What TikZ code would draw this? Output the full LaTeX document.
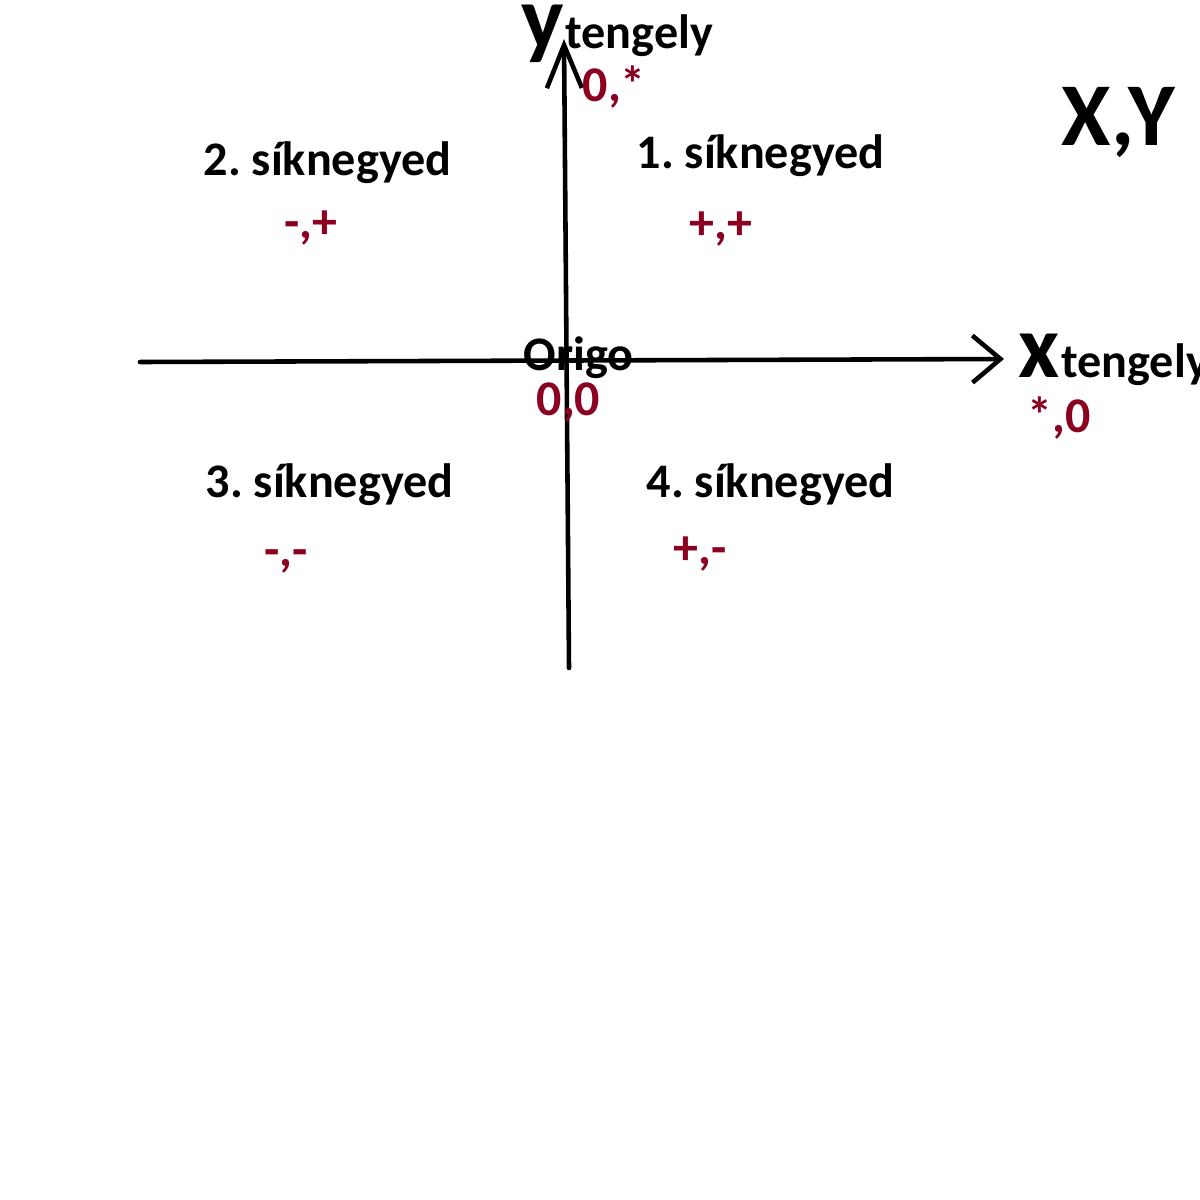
\documentclass[tikz,border=0pt]{standalone}
\usepackage{fontspec}
\setmainfont{Carlito}
\usetikzlibrary{arrows.meta,positioning}
\definecolor{DarkRed}{RGB}{139,0,33}
\frenchspacing

\begin{document}
\begin{tikzpicture}[x=0.01cm, y=-0.01cm,
	axis/.style={line width=1.3pt, line cap=round, line join=round},
	lbl/.style={anchor=base west, inner sep=0pt, font=\fontsize{13.7}{16}\selectfont\bfseries},
	sign/.style={lbl, text=DarkRed, font=\fontsize{14.2}{17}\selectfont\bfseries},
	big/.style={lbl, font=\fontsize{25.5}{30}\selectfont\bfseries}]
	\useasboundingbox (0,0) rectangle (1200,1200);
	
	% tengelyek
	\coordinate (xstart) at (140,362);
	\coordinate (xend) at (1004,359);
	\coordinate (ystart) at (569,668);
	\coordinate (yend) at (564,39);
	\draw[axis, -{Straight Barb[length=0.28cm, width=0.47cm]}] (xstart) -- (xend);
	\draw[axis, -{Straight Barb[length=0.43cm, width=0.35cm]}] (ystart) -- (yend);
	
	% tengelyfeliratok
	\node[big] (ybig) at (521,48) {y};
	\node[lbl] (ytxt) at (ybig.base east) {tengely};
	\node[sign] (ysign) at (582,101) {0,*};
	\node[big] (xbig) at (1018,377) {x};
	\node[lbl] (xtxt) at (xbig.base east) {tengely};
	\node[sign] (xsign) at (1027,432) {*,0};
	\node[big] (xy) at (1061,145) {X,Y};
	
	% origo
	\node[lbl] (origo) at (523,370) {Origo};
	\node[sign] (osign) at (536,415) {0,0};
	
	% síknegyedek
	\node[lbl] (q1) at (636,168) {1. síknegyed};
	\node[sign] (s1) at (689,239) {+,+};
	\node[lbl] (q2) at (203,175) {2. síknegyed};
	\node[sign] (s2) at (284,238) {-,+};
	\node[lbl] (q3) at (205,497) {3. síknegyed};
	\node[sign] (s3) at (264,566) {-,-};
	\node[lbl] (q4) at (646,497) {4. síknegyed};
	\node[sign] (s4) at (673,564) {+,-};
\end{tikzpicture}
\end{document}
